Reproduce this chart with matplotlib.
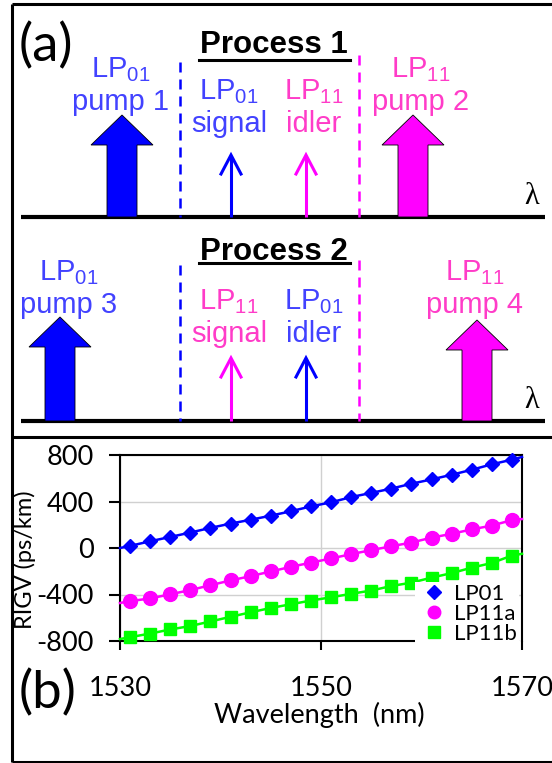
import matplotlib
matplotlib.use("Agg")
import matplotlib.pyplot as plt
from matplotlib.patches import Polygon

# RIGV of the three guided modes, read at odd wavelengths (nm)
wavelength = [1531, 1533, 1535, 1537, 1539, 1541, 1543, 1545, 1547, 1549,
              1551, 1553, 1555, 1557, 1559, 1561, 1563, 1565, 1567, 1569]
rigv_lp01 = [18, 58, 95, 133, 173, 210, 243, 278, 316, 358,
             393, 438, 474, 511, 553, 590, 630, 673, 720, 760]
rigv_lp11a = [-457, -434, -398, -362, -320, -279, -242, -202, -162, -126,
              -90, -53, -18, 15, 47, 89, 122, 160, 193, 240]
rigv_lp11b = [-767, -736, -701, -671, -632, -592, -553, -516, -484, -452,
              -424, -394, -366, -327, -298, -255, -216, -169, -129, -65]

# where the curves meet the plot edges
edge_wavelength = [1530, 1570]
edge_lp01 = [0, 783]
edge_lp11a = [-473, 249]
edge_lp11b = [-783, -50]

series_names = ["LP01", "LP11a", "LP11b"]

# schematic of the two FWM processes
process_titles = ["Process 1", "Process 2"]
pump_modes = [("01", "11"), ("01", "11")]
pump_names = [("pump 1", "pump 2"), ("pump 3", "pump 4")]
inner_modes = [("01", "11"), ("11", "01")]
inner_roles = ("signal", "idler")

BLUE = "#0000FF"
MAGENTA = "#FF00FF"
GREEN = "#00FF00"
fill_color = {"01": BLUE, "11": MAGENTA}
text_color = {"01": "#4242FF", "11": "#FF3CC8"}

plt.rcParams["font.family"] = "Lato"
plt.rcParams["mathtext.fontset"] = "custom"
plt.rcParams["mathtext.rm"] = "Liberation Sans"
plt.rcParams["axes.unicode_minus"] = False

fig = plt.figure(figsize=(5.52, 7.63), dpi=100)

# overlay in pixel coordinates for the schematic and frames
ax0 = fig.add_axes([0, 0, 1, 1])
ax0.set_xlim(0, 552)
ax0.set_ylim(763, 0)
ax0.axis("off")

frame = dict(color="black", lw=2.2, solid_capstyle="butt")
ax0.plot([12, 552], [3.5, 3.5], **frame)
ax0.plot([12, 552], [437, 437], **frame)
ax0.plot([12, 552], [761.5, 761.5], **frame)
ax0.plot([12, 12], [3.5, 761.5], **frame)


def mode_label(m):
    return r"LP$_{\mathrm{%s}}$" % m


def big_arrow(x, top, base, color):
    sw, hw, hh = 15, 31, 30
    pts = [(x - sw, base), (x - sw, top + hh), (x - hw, top + hh), (x, top),
           (x + hw, top + hh), (x + sw, top + hh), (x + sw, base)]
    ax0.add_patch(Polygon(pts, closed=True, facecolor=color,
                          edgecolor="black", lw=0.6, zorder=3))


def thin_arrow(x, top, base, color):
    ax0.plot([x, x], [base, top + 2], color=color, lw=2.2, zorder=3,
             solid_capstyle="butt")
    ax0.plot([x - 10, x, x + 10], [top + 19, top, top + 19], color=color,
             lw=2.2, zorder=3, solid_joinstyle="miter")


rows = [
    dict(base=217, pump_x=(122, 413), pump_top=(115, 115), pump_tx=(121, 421),
         pump_y=(77, 110), inner_y=(99, 132), thin_top=155,
         dash_top=(62, 55), title_y=45, line_y=60),
    dict(base=421, pump_x=(60, 477), pump_top=(317, 320), pump_tx=(69, 475),
         pump_y=(280, 313), inner_y=(309, 342), thin_top=358,
         dash_top=(265, 260), title_y=252, line_y=263),
]
inner_tx = (229, 314)
thin_x = (231, 306)
dash_x = (180, 359)

for i, r in enumerate(rows):
    ax0.plot([21, 545], [r["base"], r["base"]], color="black", lw=3,
             solid_capstyle="butt", zorder=2)
    ax0.text(532, r["base"] - 6, "λ", family="Liberation Serif",
             fontsize=22, ha="center", va="bottom")
    ax0.text(274, r["title_y"], process_titles[i], family="Liberation Sans",
             fontsize=22.5, fontweight="bold", ha="center", va="center")
    ax0.plot([199, 350], [r["line_y"], r["line_y"]], color="black", lw=2.2)
    for k in range(2):
        m = pump_modes[i][k]
        big_arrow(r["pump_x"][k], r["pump_top"][k], r["base"], fill_color[m])
        ax0.text(r["pump_tx"][k], r["pump_y"][0], mode_label(m),
                 family="Liberation Sans", fontsize=21, color=text_color[m],
                 ha="center", va="baseline")
        ax0.text(r["pump_tx"][k], r["pump_y"][1], pump_names[i][k],
                 family="Liberation Sans", fontsize=21, color=text_color[m],
                 ha="center", va="baseline")
        m2 = inner_modes[i][k]
        ax0.text(inner_tx[k], r["inner_y"][0], mode_label(m2),
                 family="Liberation Sans", fontsize=21, color=text_color[m2],
                 ha="center", va="baseline")
        ax0.text(inner_tx[k], r["inner_y"][1], inner_roles[k],
                 family="Liberation Sans", fontsize=21, color=text_color[m2],
                 ha="center", va="baseline")
        thin_arrow(thin_x[k], r["thin_top"], r["base"], fill_color[m2])
        ax0.plot([dash_x[k], dash_x[k]], [r["dash_top"][k], r["base"]],
                 color=fill_color[pump_modes[i][k]], lw=1.8,
                 dashes=(4, 2.8), zorder=2)

ax0.text(19, 46, "(a)", fontsize=38, ha="left", va="center")
ax0.text(19, 693, "(b)", fontsize=38, ha="left", va="center")

# panel (b): RIGV versus wavelength
ax = fig.add_axes([120 / 552, (763 - 641) / 763, 402 / 552, 186 / 763])
curves = [
    (rigv_lp01, edge_lp01, BLUE, "D", 7.5),
    (rigv_lp11a, edge_lp11a, MAGENTA, "o", 10),
    (rigv_lp11b, edge_lp11b, GREEN, "s", 9),
]
for name, (vals, edges, color, mk, ms) in zip(series_names, curves):
    xs = [edge_wavelength[0]] + wavelength + [edge_wavelength[1]]
    ys = [edges[0]] + vals + [edges[1]]
    ax.plot(xs, ys, color=color, lw=1.8, zorder=3, clip_on=False)
    ax.plot(wavelength, vals, ls="none", marker=mk, ms=ms, color=color,
            label=name, zorder=4, clip_on=False)

ax.set_xlim(1530, 1570)
ax.set_ylim(-800, 800)
ax.set_xticks([1530, 1550, 1570])
ax.set_yticks([-800, -400, 0, 400, 800])
ax.grid(True, color="#d0d0d0", lw=1)
ax.set_axisbelow(True)
for s in ax.spines.values():
    s.set_linewidth(1.5)
    s.set_color("black")
# the legend box sits over the right end of the bottom axis line
ax.spines["bottom"].set_bounds(1530, 1559.4)
ax.tick_params(axis="y", direction="out", length=8, width=1.5, pad=11,
               labelsize=19.5)
ax.tick_params(axis="x", direction="out", length=6.5, width=1.5, pad=19,
               labelsize=19.5)
ax.set_xlabel("Wavelength  (nm)", fontsize=19.5)
ax.xaxis.set_label_coords(0.496, -0.33)
ax.set_ylabel("RIGV (ps/km)", fontsize=17)
ax.yaxis.set_label_coords(-0.208, 0.435)

leg = ax.legend(loc="lower left", bbox_to_anchor=(0.734, -0.027),
                borderaxespad=0, fontsize=16, frameon=True, framealpha=1,
                facecolor="white", edgecolor="none", fancybox=False,
                handlelength=1.5, handletextpad=0.15, labelspacing=0.0,
                borderpad=0.1, markerscale=0.9)
leg.set_zorder(5)

fig.savefig("out.png", dpi=100)
